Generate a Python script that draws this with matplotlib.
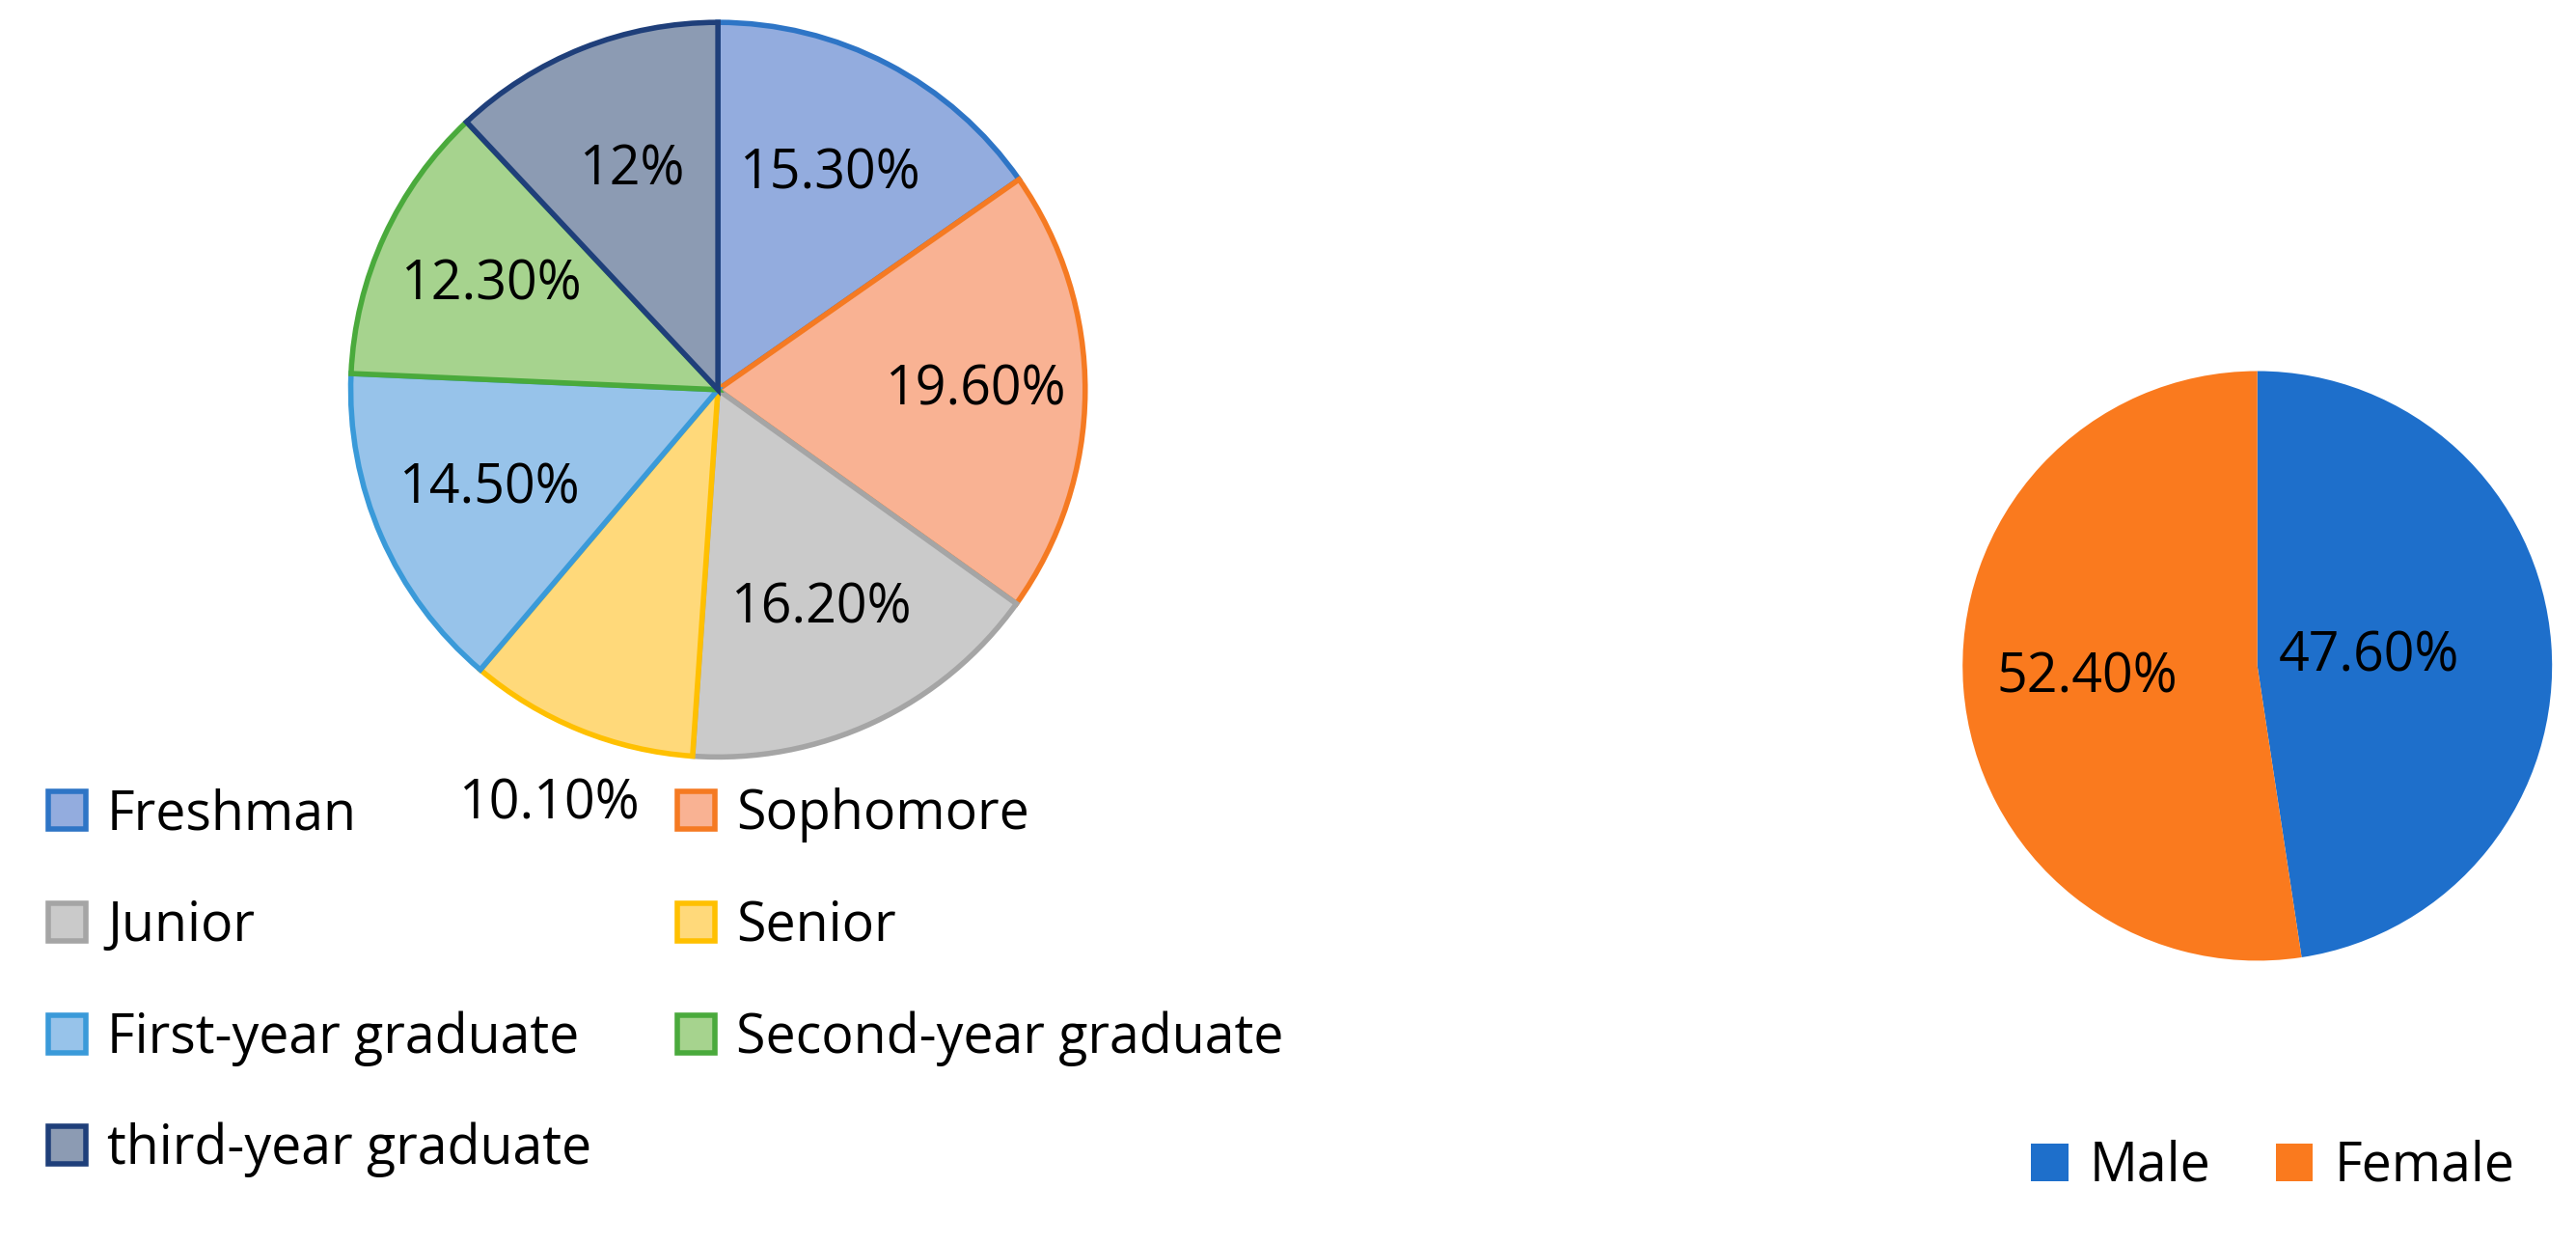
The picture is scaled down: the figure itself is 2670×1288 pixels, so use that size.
import matplotlib.pyplot as plt
import numpy as np
from matplotlib.patches import Patch

plt.rcParams['font.family'] = ['Open Sans', 'DejaVu Sans']

grades = ["Freshman", "Sophomore", "Junior", "Senior",
          "First-year graduate", "Second-year graduate", "third-year graduate"]
grade_vals = [15.3, 19.6, 16.2, 10.1, 14.5, 12.3, 12.0]
grade_labels = ["15.30%", "19.60%", "16.20%", "10.10%", "14.50%", "12.30%", "12%"]
grade_fill = ["#93ACDE", "#F9B293", "#CACACA", "#FFD97A", "#97C3EA", "#A6D38E", "#8C9BB3"]
grade_edge = ["#2E75C6", "#F57A22", "#A5A5A5", "#FFC000", "#3A9AD9", "#4AAA3C", "#1F3F7A"]
label_r = [0.66, 0.7, 0.66, 1.22, 0.68, 0.68, 0.64]

gender = ["Male", "Female"]
gender_vals = [47.6, 52.4]
gender_labels = ["47.60%", "52.40%"]
gender_col = ["#1E6FCB", "#FA7A1E"]
gender_r = [0.38, 0.58]

fig = plt.figure(figsize=(26.7, 12.88), dpi=100)

ax1 = fig.add_axes([0.1333, 0.3849, 0.2908, 0.6032])
w1, _ = ax1.pie(grade_vals, startangle=90, counterclock=False, colors=grade_fill,
                wedgeprops=dict(linewidth=4))
for w, ec in zip(w1, grade_edge):
    w.set_edgecolor(ec)
ang = 90 - (np.cumsum(grade_vals) - np.array(grade_vals) / 2) * 3.6
for a, r, t in zip(ang, label_r, grade_labels):
    ax1.text(r * np.cos(np.radians(a)), r * np.sin(np.radians(a)), t,
             ha='center', va='center', fontsize=40)
ax1.set_xlim(-1.02, 1.02); ax1.set_ylim(-1.02, 1.02)
ax1.set_aspect('equal')

ax2 = fig.add_axes([0.7596, 0.2223, 0.2334, 0.484])
ax2.pie(gender_vals, startangle=90, counterclock=False, colors=gender_col)
ang2 = 90 - (np.cumsum(gender_vals) - np.array(gender_vals) / 2) * 3.6
for a, r, t in zip(ang2, gender_r, gender_labels):
    ax2.text(r * np.cos(np.radians(a)), r * np.sin(np.radians(a)), t,
             ha='center', va='center', fontsize=40)
ax2.set_xlim(-1.02, 1.02); ax2.set_ylim(-1.02, 1.02)
ax2.set_aspect('equal')

# legend fills column-first, so reorder to get row-wise reading order
order = [0, 2, 4, 6, 1, 3, 5]
h1 = [Patch(facecolor=grade_fill[i], edgecolor=grade_edge[i], linewidth=4) for i in order]
fig.legend(h1, [grades[i] for i in order], loc='upper left', bbox_to_anchor=(0.0, 0.405), ncol=2,
           frameon=False, fontsize=40, labelspacing=1.05, columnspacing=1.6,
           handlelength=0.7, handleheight=0.7, handletextpad=0.4)

h2 = [Patch(facecolor=c) for c in gender_col]
fig.legend(h2, gender, loc='lower right', bbox_to_anchor=(0.995, 0.0), ncol=2,
           frameon=False, fontsize=40, handlelength=0.7, handleheight=0.7,
           handletextpad=0.4, columnspacing=1.2)

fig.savefig("out.png", dpi=100)
